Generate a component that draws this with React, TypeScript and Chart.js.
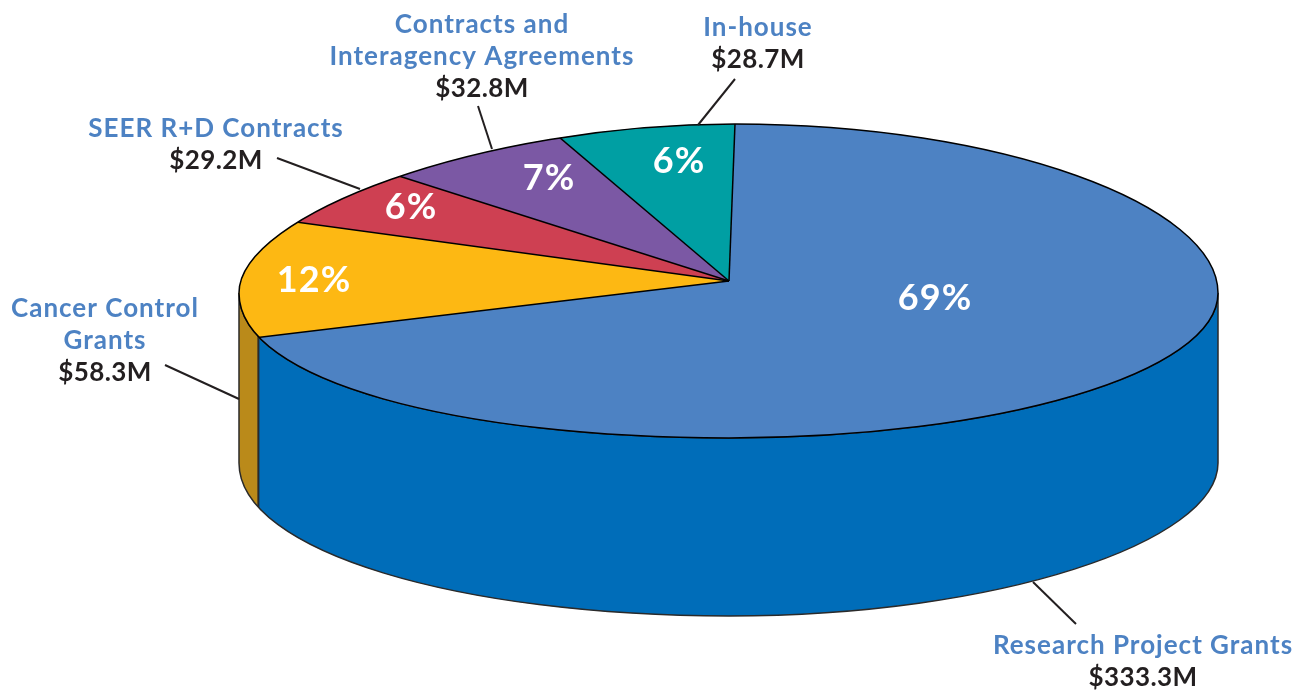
import React, { useEffect, useRef } from "react";
import { Chart, registerables } from "chart.js";

Chart.register(...registerables);

// ---- data ----
const categories = [
  "Research Project Grants",
  "Cancer Control Grants",
  "SEER R+D Contracts",
  "Contracts and Interagency Agreements",
  "In-house",
];
const amounts = [333.3, 58.3, 29.2, 32.8, 28.7];
const nameLines = [
  ["Research Project Grants"],
  ["Cancer Control", "Grants"],
  ["SEER R+D Contracts"],
  ["Contracts and", "Interagency Agreements"],
  ["In-house"],
];

// ---- styles ----
const topColors = ["#4D82C3", "#FDB813", "#CE4052", "#7B58A4", "#009FA3"];
const wallColors = ["#006DB9", "#BA8A1A", "#A83040", "#5F4385", "#007F82"];
const INK = "#231F20";
const NAME_BLUE = "#4D82C3";
const FONT = "Lato";

// ---- layout ----
const CENTER_X = 729;
const CENTER_Y = 281;
const RADIUS_X = 490;
const RADIUS_Y = 157;
const OVERSIZE = 1.25; // library pie is drawn larger, then trimmed to the disc outline
const START_DEG = 0.7;
const LINE_GAP = 32;

type Seg = number[]; // c1x, c1y, c2x, c2y, x, y
// disc outline, starting at its left extreme and going clockwise
const DISC_START = [239, 293];
const discBack: Seg[] = [
  [239, 215, 480, 124, 735, 124],
  [1001, 124, 1218, 205, 1218, 293],
];
const discFront: Seg[] = [
  [1218, 373, 998, 438, 729, 438],
  [460, 438, 239, 382, 239, 293],
];
// lower rim of the wall, from right to left
const RIM_START = [1218, 463];
const rim: Seg[] = [
  [1218, 542, 998, 616, 729, 616],
  [460, 616, 239, 552, 239, 463],
];

// centre x and first baseline of each callout
const calloutX = [1143, 105, 216, 482, 758];
const calloutY = [654, 317, 137, 33, 36];
// leader lines: [x0, y0, x1, y1]
const leaders = [
  [1033, 582, 1076, 624],
  [165, 365, 239, 399],
  [277, 158, 360, 189],
  [478, 106, 492, 149],
  [735, 79, 698, 125],
];
// percentage labels: centre x, baseline
const pctX = [935, 314, 411, 549, 679];
const pctY = [310, 292, 219, 190, 173];

const total = amounts.reduce((a, b) => a + b, 0);

function discPath(ctx: CanvasRenderingContext2D) {
  ctx.beginPath();
  ctx.moveTo(DISC_START[0], DISC_START[1]);
  [...discBack, ...discFront].forEach((s) => ctx.bezierCurveTo(s[0], s[1], s[2], s[3], s[4], s[5]));
  ctx.closePath();
}

function wallPath(ctx: CanvasRenderingContext2D) {
  ctx.beginPath();
  ctx.moveTo(discBack[1][4], discBack[1][5]);
  discFront.forEach((s) => ctx.bezierCurveTo(s[0], s[1], s[2], s[3], s[4], s[5]));
  ctx.lineTo(rim[1][4], rim[1][5]);
  // rim, walked backwards
  ctx.bezierCurveTo(rim[1][2], rim[1][3], rim[1][0], rim[1][1], rim[0][4], rim[0][5]);
  ctx.bezierCurveTo(rim[0][2], rim[0][3], rim[0][0], rim[0][1], RIM_START[0], RIM_START[1]);
  ctx.closePath();
}

// x where a front-facing angle meets the front edge of the disc
function frontX(angle: number): number {
  let px = discBack[1][4];
  let py = discBack[1][5];
  for (const s of discFront) {
    for (let n = 1; n <= 200; n++) {
      const t = n / 200;
      const m = 1 - t;
      const x = m * m * m * px + 3 * m * m * t * s[0] + 3 * m * t * t * s[2] + t * t * t * s[4];
      const y = m * m * m * py + 3 * m * m * t * s[1] + 3 * m * t * t * s[3] + t * t * t * s[5];
      const a = Math.atan2((y - CENTER_Y) / RADIUS_Y, (x - CENTER_X) / RADIUS_X);
      if (a >= angle) return x;
    }
    px = s[4];
    py = s[5];
  }
  return px;
}

const pie3d = {
  id: "pie3d",
  beforeDatasetDraw(chart: any) {
    const { ctx } = chart;
    const arcs = chart.getDatasetMeta(0).data;
    if (!arcs.length) return;
    const k = RADIUS_Y / RADIUS_X;

    // side wall: one clipped band per slice that faces the viewer
    const seams: number[] = [];
    ctx.save();
    wallPath(ctx);
    ctx.clip();
    arcs.forEach((arc: any, i: number) => {
      for (const shift of [-2 * Math.PI, 0, 2 * Math.PI]) {
        const a0 = Math.max(arc.startAngle + shift, 0);
        const a1 = Math.min(arc.endAngle + shift, Math.PI);
        if (a1 <= a0) continue;
        const xRight = a0 <= 0 ? chart.width : frontX(a0);
        const xLeft = a1 >= Math.PI ? 0 : frontX(a1);
        if (a1 < Math.PI) seams.push(xLeft);
        ctx.fillStyle = wallColors[i];
        ctx.fillRect(xLeft, 0, xRight - xLeft, chart.height);
      }
    });
    ctx.strokeStyle = "#2a2a2a";
    ctx.lineWidth = 2;
    seams.forEach((x) => {
      ctx.beginPath();
      ctx.moveTo(x, 0);
      ctx.lineTo(x, chart.height);
      ctx.stroke();
    });
    ctx.restore();
    ctx.save();
    wallPath(ctx);
    ctx.strokeStyle = "#2a2a2a";
    ctx.lineWidth = 1.5;
    ctx.stroke();
    ctx.restore();

    // squash the library's round pie and trim it to the disc outline
    ctx.save();
    discPath(ctx);
    ctx.clip();
    ctx.translate(CENTER_X, CENTER_Y);
    ctx.scale(1, k);
    ctx.translate(-arcs[0].x, -arcs[0].y);
  },
  afterDatasetDraw(chart: any) {
    const { ctx } = chart;
    ctx.restore();
    const arcs = chart.getDatasetMeta(0).data;

    // slice edges
    ctx.save();
    discPath(ctx);
    ctx.clip();
    ctx.lineWidth = 1.5;
    ctx.strokeStyle = "#000";
    arcs.forEach((arc: any) => {
      ctx.beginPath();
      ctx.moveTo(CENTER_X, CENTER_Y);
      ctx.lineTo(
        CENTER_X + Math.cos(arc.startAngle) * RADIUS_X * OVERSIZE,
        CENTER_Y + Math.sin(arc.startAngle) * RADIUS_Y * OVERSIZE
      );
      ctx.stroke();
    });
    ctx.restore();

    ctx.save();
    discPath(ctx);
    ctx.lineWidth = 1.5;
    ctx.strokeStyle = "#000";
    ctx.stroke();

    // leaders
    ctx.lineWidth = 2;
    ctx.strokeStyle = INK;
    leaders.forEach(([x0, y0, x1, y1]) => {
      ctx.beginPath();
      ctx.moveTo(x0, y0);
      ctx.lineTo(x1, y1);
      ctx.stroke();
    });

    // texts
    ctx.textAlign = "center";
    ctx.textBaseline = "alphabetic";
    amounts.forEach((v, i) => {
      let y = calloutY[i];
      ctx.font = `bold 26px ${FONT}`;
      ctx.letterSpacing = "1px";
      ctx.fillStyle = NAME_BLUE;
      nameLines[i].forEach((line) => {
        ctx.fillText(line, calloutX[i], y);
        y += LINE_GAP;
      });
      ctx.letterSpacing = "0.4px";
      ctx.fillStyle = INK;
      ctx.fillText(`$${v}M`, calloutX[i], y);
      ctx.font = `bold 36px ${FONT}`;
      ctx.letterSpacing = "1px";
      ctx.fillStyle = "#FFFFFF";
      ctx.fillText(`${Math.round((v / total) * 100)}%`, pctX[i], pctY[i]);
    });
    ctx.restore();
  },
};

export default function App() {
  const ref = useRef<HTMLCanvasElement | null>(null);
  useEffect(() => {
    if (!ref.current) return;
    const chart = new Chart(ref.current, {
      type: "pie",
      data: {
        labels: categories,
        datasets: [
          {
            data: amounts,
            backgroundColor: topColors,
            borderWidth: 0,
            radius: RADIUS_X * OVERSIZE,
            clip: false,
          } as any,
        ],
      },
      options: {
        responsive: false,
        animation: false,
        rotation: START_DEG,
        layout: { padding: 0, autoPadding: false },
        plugins: { legend: { display: false }, tooltip: { enabled: false } },
      } as any,
      plugins: [pie3d],
    });
    return () => chart.destroy();
  }, []);
  return (
    <canvas
      ref={ref}
      width={1304}
      height={690}
      style={{ position: "fixed", left: 0, top: 0, display: "block", background: "#fff" }}
    />
  );
}
